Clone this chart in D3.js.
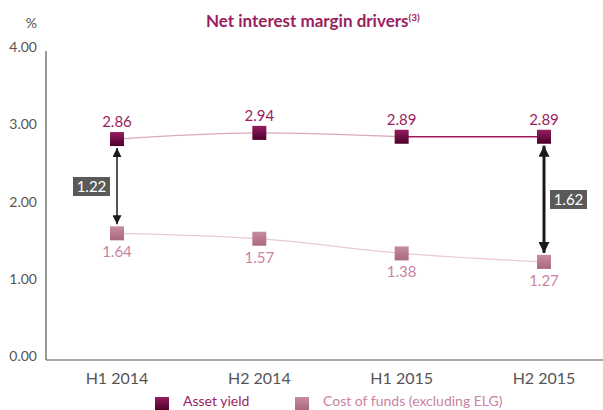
<!DOCTYPE html>
<meta charset="utf-8">
<script src="https://d3js.org/d3.v7.min.js"></script>
<div id="chart"></div>
<style>
  body { margin: 0; background: #fff; font-family: Lato, 'Open Sans', sans-serif; }
</style>
<script>
// data
var periods = ["H1 2014", "H2 2014", "H1 2015", "H2 2015"];
var assetYield = [2.86, 2.94, 2.89, 2.89];
var costOfFunds = [1.64, 1.57, 1.38, 1.27];
var spreadIdx = [0, 3];
var spreadLabels = ["1.22", "1.62"];
var yTicks = [0, 1, 2, 3, 4];
var legendNames = ["Asset yield", "Cost of funds (excluding ELG)"];

var colors = {
  asset: "#9b1d5e",
  assetLine: "#dba8c3",
  assetLineLast: "#a3175f",
  cost: "#c9839f",
  costLine: "#ebcad7",
  axis: "#555",
  box: "#5a5a5a"
};

var width = 603, height = 410;
var svg = d3.select("#chart").append("svg")
  .attr("width", width).attr("height", height);

var defs = svg.append("defs");
function grad(id, top, bottom) {
  var g = defs.append("linearGradient").attr("id", id)
    .attr("x1", 0).attr("y1", 0).attr("x2", 0).attr("y2", 1);
  g.append("stop").attr("offset", "0%").attr("stop-color", top);
  g.append("stop").attr("offset", "100%").attr("stop-color", bottom);
}
grad("gAsset", "#951e60", "#4d002a");
grad("gCost", "#c78ca3", "#a9697f");

function arrowMarker(id, w) {
  defs.append("marker").attr("id", id)
    .attr("viewBox", "0 0 10 10").attr("refX", 10).attr("refY", 5)
    .attr("markerWidth", w).attr("markerHeight", w)
    .attr("markerUnits", "userSpaceOnUse")
    .attr("orient", "auto-start-reverse")
    .append("path").attr("d", "M0,0 L10,5 L0,10 z").attr("fill", "#1a1a1a");
}
arrowMarker("arrThin", 9);
arrowMarker("arrThick", 11);

var x = d3.scalePoint().domain(periods).range([117, 544]);
var y = d3.scaleLinear().domain([0, 4]).range([360, 51]);

// axes
svg.append("line").attr("x1", 46).attr("x2", 46).attr("y1", y(4)).attr("y2", y(0))
  .attr("stroke", colors.axis).attr("stroke-width", 1.2);
svg.append("line").attr("x1", 46).attr("x2", width).attr("y1", y(0)).attr("y2", y(0))
  .attr("stroke", colors.axis).attr("stroke-width", 1.2);

svg.selectAll(".ytick").data(yTicks).enter().append("text")
  .attr("x", 37).attr("y", function(d) { return y(d) + 1; })
  .attr("text-anchor", "end").attr("font-size", 14).attr("fill", colors.axis)
  .text(function(d) { return d3.format(".2f")(d); });

svg.append("text").attr("x", 37).attr("y", 28).attr("text-anchor", "end")
  .attr("font-size", 14).attr("fill", colors.axis).text("%");

svg.selectAll(".xtick").data(periods).enter().append("text")
  .attr("x", function(d) { return x(d); }).attr("y", 384)
  .attr("text-anchor", "middle").attr("font-size", 16).attr("fill", colors.axis)
  .text(function(d) { return d; });

// title
var title = svg.append("text").attr("x", 206).attr("y", 27)
  .attr("font-size", 17).attr("font-weight", "bold").attr("fill", colors.asset);
title.append("tspan").text("Net interest margin drivers");
title.append("tspan").attr("font-size", 10).attr("dy", -6).text("(3)");

// lines
var line = d3.line()
  .x(function(d) { return x(d.p); })
  .y(function(d) { return y(d.v); })
  .curve(d3.curveMonotoneX);

var assetPts = periods.map(function(p, i) { return {p: p, v: assetYield[i]}; });
var costPts = periods.map(function(p, i) { return {p: p, v: costOfFunds[i]}; });

svg.append("path").attr("d", line(costPts)).attr("fill", "none")
  .attr("stroke", colors.costLine).attr("stroke-width", 1.3);
svg.append("path").attr("d", line(assetPts.slice(0, 3))).attr("fill", "none")
  .attr("stroke", colors.assetLine).attr("stroke-width", 1.3);
svg.append("path").attr("d", line(assetPts.slice(2))).attr("fill", "none")
  .attr("stroke", colors.assetLineLast).attr("stroke-width", 1.3);

// markers
var s = 14;
svg.selectAll(".mCost").data(costPts).enter().append("rect")
  .attr("x", function(d) { return x(d.p) - s / 2; })
  .attr("y", function(d) { return y(d.v) - s / 2; })
  .attr("width", s).attr("height", s).attr("fill", "url(#gCost)");
svg.selectAll(".mAsset").data(assetPts).enter().append("rect")
  .attr("x", function(d) { return x(d.p) - s / 2; })
  .attr("y", function(d) { return y(d.v) - s / 2; })
  .attr("width", s).attr("height", s).attr("fill", "url(#gAsset)");

// value labels
svg.selectAll(".lAsset").data(assetPts).enter().append("text")
  .attr("x", function(d) { return x(d.p); })
  .attr("y", function(d) { return y(d.v) - 12; })
  .attr("text-anchor", "middle").attr("font-size", 15).attr("fill", colors.asset)
  .text(function(d) { return d.v.toFixed(2); });
svg.selectAll(".lCost").data(costPts).enter().append("text")
  .attr("x", function(d) { return x(d.p); })
  .attr("y", function(d) { return y(d.v) + 24; })
  .attr("text-anchor", "middle").attr("font-size", 15).attr("fill", colors.cost)
  .text(function(d) { return d.v.toFixed(2); });

// spread arrows and boxes
spreadIdx.forEach(function(i, k) {
  var cx = x(periods[i]);
  var thick = k === 1;
  svg.append("line")
    .attr("x1", cx).attr("x2", cx)
    .attr("y1", y(assetYield[i]) + 9).attr("y2", y(costOfFunds[i]) - 9)
    .attr("stroke", "#1a1a1a").attr("stroke-width", thick ? 3 : 1.5)
    .attr("marker-start", thick ? "url(#arrThick)" : "url(#arrThin)")
    .attr("marker-end", thick ? "url(#arrThick)" : "url(#arrThin)");
  var bx = thick ? cx + 6 : cx - 44;
  var by = thick ? 190 : 177;
  svg.append("rect").attr("x", bx).attr("y", by).attr("width", 37).attr("height", 19)
    .attr("fill", colors.box);
  svg.append("text").attr("x", bx + 18.5).attr("y", by + 15)
    .attr("text-anchor", "middle").attr("font-size", 15).attr("fill", "#fff")
    .text(spreadLabels[k]);
});

// legend
var legendX = [155, 295];
var legendFill = ["url(#gAsset)", "url(#gCost)"];
var legendColor = [colors.asset, colors.cost];
legendNames.forEach(function(n, i) {
  svg.append("rect").attr("x", legendX[i]).attr("y", 397).attr("width", 14).attr("height", 13)
    .attr("fill", legendFill[i]);
  svg.append("text").attr("x", legendX[i] + 28).attr("y", 406)
    .attr("font-size", 14).attr("fill", legendColor[i]).text(n);
});
</script>
